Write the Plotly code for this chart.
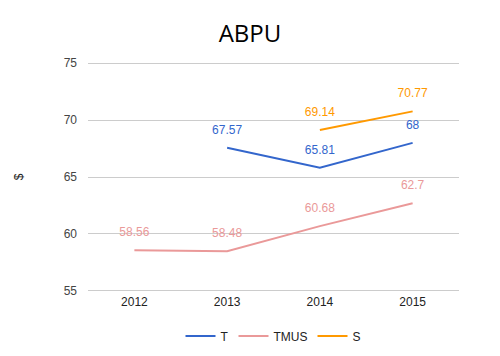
import plotly.graph_objects as go

years = ["2012", "2013", "2014", "2015"]
t_vals = [None, 67.57, 65.81, 68]
tmus_vals = [58.56, 58.48, 60.68, 62.7]
s_vals = [None, None, 69.14, 70.77]

series = [("T", t_vals, "#3366cc"), ("TMUS", tmus_vals, "#ea9999"), ("S", s_vals, "#ff9900")]

fig = go.Figure()
for name, vals, color in series:
    fig.add_trace(go.Scatter(
        x=years, y=vals, name=name, mode="lines+markers+text",
        line=dict(color=color, width=2),
        marker=dict(size=16, color="rgba(0,0,0,0)"),
        text=[("" if v is None else f"{v:g}") for v in vals],
        textposition="top center",
        textfont=dict(color=color, size=12, family="Liberation Sans, Arial"),
        cliponaxis=False,
    ))

fig.update_layout(
    width=500, height=356,
    paper_bgcolor="white", plot_bgcolor="white",
    margin=dict(l=88, r=41, t=61, b=63, autoexpand=False),
    title=dict(text="ABPU", x=0.5, xanchor="center", y=0.905, yanchor="middle",
               yref="container",
               font=dict(size=24, color="black", family="Open Sans, Arial")),
    font=dict(family="Liberation Sans, Arial", size=12, color="#222"),
    xaxis=dict(type="category", range=[-0.5, 3.5], showgrid=False, showline=False,
               ticks="", tickfont=dict(size=12, color="#222")),
    yaxis=dict(range=[54.8, 75.2], tickvals=[55, 60, 65, 70, 75], showgrid=True,
               gridcolor="#cccccc", zeroline=False, ticks="", ticklabelstandoff=10,
               tickfont=dict(size=12, color="#444"),
               title=dict(text="$", font=dict(size=12, color="#222"), standoff=37)),
    legend=dict(orientation="h", x=0.5, xanchor="center", y=0.056, yanchor="middle",
                yref="container", font=dict(size=12, color="#222")),
    showlegend=True,
)

fig.write_html("out.html", config={"displayModeBar": False},
               post_script="document.body.style.margin='0';")
